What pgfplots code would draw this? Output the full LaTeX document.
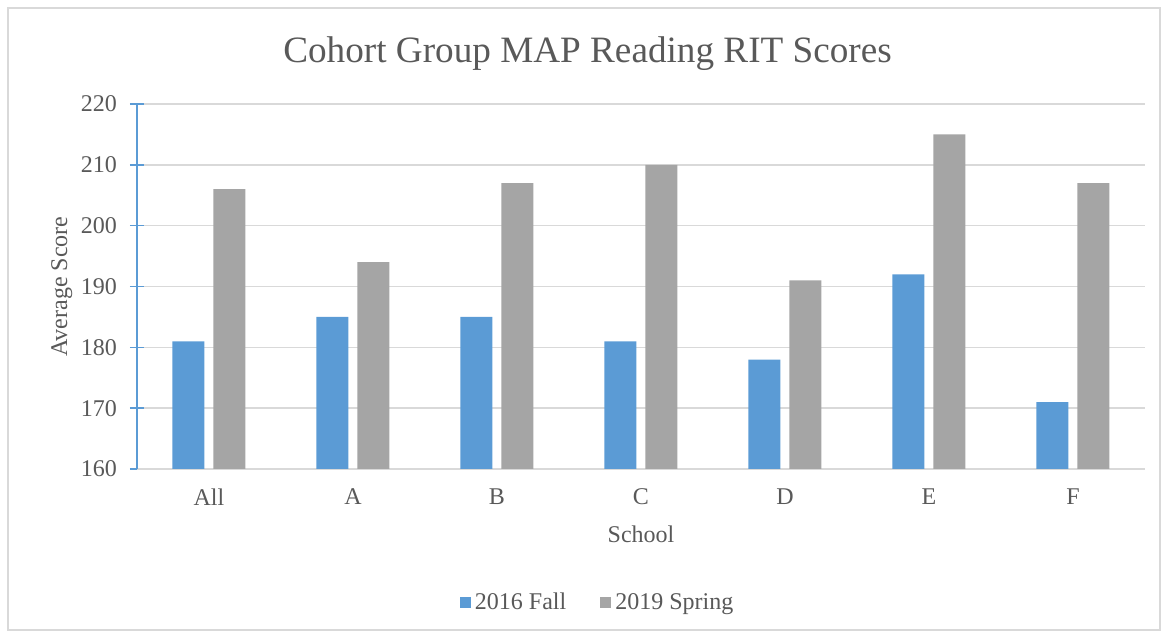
\documentclass[border=0pt]{standalone}
\usepackage{pgfplots}
\pgfplotsset{compat=1.18}
\usepackage{fontspec}
\setmainfont{Liberation Serif}
\definecolor{fallblue}{HTML}{5B9BD5}
\definecolor{springgray}{HTML}{A5A5A5}
\definecolor{gridgray}{HTML}{D9D9D9}
\definecolor{txt}{HTML}{595959}
\begin{document}
\begin{tikzpicture}
\path (-68.5pt,-84pt) rectangle (516pt,234.5pt);
\draw[gridgray, line width=0.6pt] (-64.5pt,-80.5pt) rectangle (511.5pt,230.5pt);
\begin{axis}[
    scale only axis,
    width=504pt, height=182.5pt,
    xmin=-0.5, xmax=6.5,
    ymin=160, ymax=220,
    ybar=4.5pt, bar width=16pt,
    xtick={0,...,6},
    xticklabels={All,A,B,C,D,E,F},
    ytick={160,170,...,220},
    axis x line*=bottom,
    axis y line*=left,
    x axis line style={gridgray, line width=0.8pt, -},
    y axis line style={fallblue, line width=0.8pt, -},
    x tick style={draw=none},
    y tick style={fallblue, line width=0.8pt},
    major tick length=7pt,
    tick align=center,
    ymajorgrids,
    grid style={gridgray, line width=0.8pt},
    tick label style={font=\fontsize{12}{14}\selectfont, text=txt},
    xticklabel style={yshift=-3pt},
    yticklabel style={xshift=-3pt},
    /pgf/number format/assume math mode=true,
    xlabel={School},
    ylabel={Average Score},
    xlabel style={yshift=-3pt},
    ylabel style={yshift=-2.5pt},
    label style={font=\fontsize{12}{14}\selectfont, text=txt},
    title={Cohort Group MAP Reading RIT Scores},
    title style={font=\fontsize{18.6}{21}\selectfont, text=txt, at={(0.447,1.104)}, anchor=center},
    legend style={at={(0.458,-0.367)}, anchor=center, draw=none, legend columns=2,
        font=\fontsize{12}{14}\selectfont, text=txt,
        /tikz/every even column/.append style={column sep=15pt}},
    legend image code/.code={\fill[#1] (0pt,-2.5pt) rectangle (5.5pt,3pt);},
]
\addplot[fill=fallblue, draw=none] coordinates {
    (0,181) (1,185) (2,185) (3,181) (4,178) (5,192) (6,171)
};
\addlegendentry{2016 Fall}
\addplot[fill=springgray, draw=none] coordinates {
    (0,206) (1,194) (2,207) (3,210) (4,191) (5,215) (6,207)
};
\addlegendentry{2019 Spring}
\end{axis}
\end{tikzpicture}
\end{document}
